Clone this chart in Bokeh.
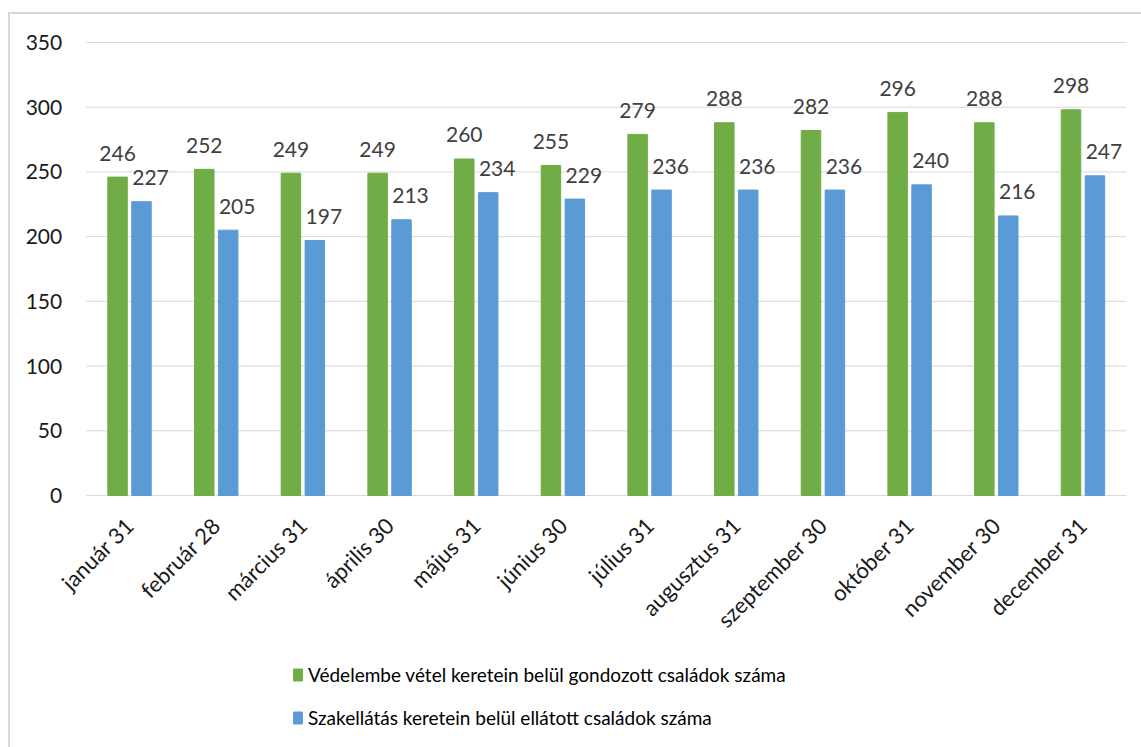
from math import pi
from bokeh.plotting import figure
from bokeh.models import ColumnDataSource, FixedTicker, Range1d, Legend, LegendItem
from bokeh.transform import dodge
from bokeh.core.properties import value
from bokeh.embed import file_html
from bokeh.resources import INLINE

months = ["január 31", "február 28", "március 31", "április 30", "május 31", "június 30",
          "július 31", "augusztus 31", "szeptember 30", "október 31", "november 30", "december 31"]
vedelembe = [246, 252, 249, 249, 260, 255, 279, 288, 282, 296, 288, 298]
szakellatas = [227, 205, 197, 213, 234, 229, 236, 236, 236, 240, 216, 247]
series_names = ["Védelembe vétel keretein belül gondozott családok száma",
                "Szakellátás keretein belül ellátott családok száma"]
y_ticks = [0, 50, 100, 150, 200, 250, 300, 350]

GREEN = "#70AD47"
BLUE = "#5B9BD5"
GRID = "#d9d9d9"
FONT = "Lato"

n = len(months)
idx = list(range(n))
src = ColumnDataSource(dict(
    idx=idx, month=months, ved=vedelembe, szak=szakellatas,
    ved_lbl=[str(v) for v in vedelembe], szak_lbl=[str(v) for v in szakellatas],
))

# plot area (categories -0.5 .. n-0.5, values 0..350) = 1040 x 453 px;
# the frame is larger so the axis labels and the legend are drawn inside it
px_x = 1040.1 / n
px_y = 453 / 350
p = figure(x_range=Range1d(-0.5 - 65.7 / px_x, n - 0.5 + 15.2 / px_x),
           y_range=Range1d(-250 / px_y, 350 + 22 / px_y),
           frame_width=1121, frame_height=725,
           min_border_left=10, min_border_top=6, min_border_right=0, min_border_bottom=2,
           output_backend="svg", toolbar_location=None)
p.styles = {"border-left": "2px solid #d9d9d9", "border-top": "2px solid #d9d9d9",
            "margin-top": "12px", "margin-left": "8px"}
p.outline_line_color = None
p.xgrid.grid_line_color = None
p.ygrid.grid_line_color = None

# horizontal gridlines across the category span
p.segment(x0=[-0.5] * len(y_ticks), x1=[n - 0.5] * len(y_ticks), y0=y_ticks, y1=y_ticks,
          line_color=GRID, line_width=1, level="underlay")

r1 = p.vbar(x=dodge("idx", -0.138), top="ved", width=0.225,
            source=src, fill_color=GREEN, line_color=GREEN)
r2 = p.vbar(x=dodge("idx", 0.138), top="szak", width=0.225,
            source=src, fill_color=BLUE, line_color=BLUE)

p.text(x=dodge("idx", -0.138), y="ved", text="ved_lbl", source=src,
       text_align="center", text_baseline="alphabetic", y_offset=-24,
       text_font=value(FONT), text_font_size="21px", text_color="#404040")
p.text(x=dodge("idx", 0.138), y="szak", text="szak_lbl", source=src,
       text_align="center", text_baseline="alphabetic", y_offset=-24, x_offset=9,
       text_font=value(FONT), text_font_size="21px", text_color="#404040")

p.yaxis.fixed_location = -0.5
p.yaxis.ticker = FixedTicker(ticks=y_ticks)
p.yaxis.axis_line_color = None
p.yaxis.major_tick_line_color = None
p.yaxis.minor_tick_line_color = None
p.yaxis.major_label_standoff = 18
p.yaxis.major_label_text_font = FONT
p.yaxis.major_label_text_font_size = "21px"
p.yaxis.major_label_text_color = "#1a1a1a"

p.xaxis.fixed_location = 0
p.xaxis.ticker = FixedTicker(ticks=idx)
p.xaxis.major_label_overrides = {i: m for i, m in zip(idx, months)}
p.xaxis.axis_line_color = None
p.xaxis.major_tick_line_color = None
p.xaxis.minor_tick_line_color = None
p.xaxis.major_label_orientation = pi / 4
p.xaxis.major_label_standoff = 20
p.xaxis.major_label_text_font = FONT
p.xaxis.major_label_text_font_size = "22px"
p.xaxis.major_label_text_color = "#1a1a1a"

legend = Legend(items=[LegendItem(label=series_names[0], renderers=[r1]),
                       LegendItem(label=series_names[1], renderers=[r2])],
                location=(272, 16), orientation="vertical", padding=0, margin=0,
                spacing=20, glyph_width=11, glyph_height=15, label_standoff=5,
                label_text_font=FONT, label_text_font_size="19px", label_text_color="#000000",
                border_line_color=None, background_fill_alpha=0)
p.add_layout(legend)

open("out.html", "w").write(file_html(p, INLINE))
